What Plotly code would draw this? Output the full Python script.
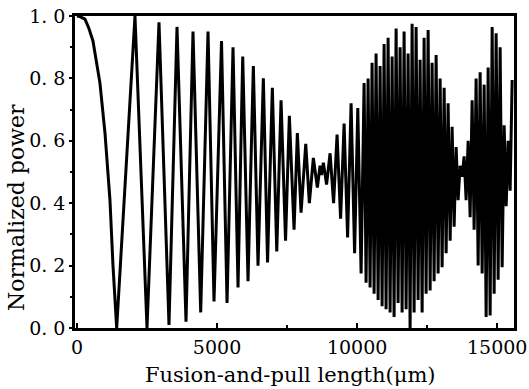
import plotly.graph_objects as go

# Fusion-and-pull length (um) and normalized power (extrema and a few shape points)
length_um = [
    0, 107, 286, 428, 571, 821, 1000, 1178, 1286, 1418, 2071,
    2500, 2928, 3285, 3571, 3892, 4142, 4417, 4678, 4892, 5160,
    5357, 5571, 5749, 5917, 6106, 6296, 6463, 6653, 6803, 6974,
    7132, 7285, 7445, 7581, 7749, 7867, 7999, 8167, 8295, 8438,
    8581, 8677, 8730,
    8795, 8910, 9035, 9160, 9285, 9410, 9535, 9660, 9785, 9910,
    10024, 10142,
    10249, 10320, 10392, 10463, 10534, 10606, 10677, 10749, 10820, 10892,
    10963, 11034, 11106, 11177, 11249, 11320, 11392, 11463, 11534, 11606,
    11677, 11749, 11820, 11891, 11963, 12034, 12106, 12177, 12248, 12320,
    12391, 12463, 12534, 12606, 12677, 12748, 12820, 12891, 12963, 13034,
    13106, 13177, 13248, 13320, 13391, 13463, 13534, 13605, 13677, 13748,
    13820, 13891, 13963, 14034, 14105, 14177, 14248, 14320, 14391, 14463,
    14534, 14605, 14677, 14748, 14820, 14891, 14962, 15034, 15105, 15177,
    15248, 15320, 15391, 15462, 15534,
]
power = [
    1.0, 0.998, 0.99, 0.96, 0.92, 0.785, 0.625, 0.41, 0.2, 0.0, 1.0,
    0.0, 0.98, 0.01, 0.965, 0.02, 0.95, 0.05, 0.95, 0.085, 0.92,
    0.08, 0.90, 0.13, 0.87, 0.15, 0.84, 0.20, 0.80, 0.21, 0.77,
    0.245, 0.73, 0.28, 0.68, 0.315, 0.625, 0.37, 0.59, 0.40, 0.545,
    0.45, 0.52, 0.49,
    0.53, 0.46, 0.56, 0.40, 0.62, 0.35, 0.655, 0.29, 0.72, 0.24,
    0.705, 0.175,
    0.785, 0.145, 0.80, 0.13, 0.85, 0.11, 0.88, 0.09, 0.84, 0.07,
    0.91, 0.06, 0.93, 0.05, 0.87, 0.035, 0.96, 0.08, 0.90, 0.05,
    0.95, 0.06, 0.88, 0.0, 0.975, 0.05, 0.965, 0.09, 0.86, 0.05,
    0.93, 0.11, 0.955, 0.12, 0.85, 0.15, 0.875, 0.175, 0.80, 0.195,
    0.77, 0.24, 0.72, 0.28, 0.645, 0.325, 0.58, 0.41, 0.52, 0.485,
    0.55, 0.41, 0.60, 0.355, 0.73, 0.315, 0.80, 0.20, 0.82, 0.175,
    0.78, 0.035, 0.835, 0.04, 0.965, 0.11, 0.945, 0.155, 0.90, 0.195,
    0.65, 0.39, 0.60, 0.44, 0.795,
]

x_ticks = [0, 5000, 10000, 15000]
x_labels = ["0", "5000", "10000", "15000"]
y_ticks = [0.0, 0.2, 0.4, 0.6, 0.8, 1.0]
y_labels = ["0. 0", "0. 2", "0. 4", "0. 6", "0. 8", "1. 0"]

font_family = "DejaVu Serif"

fig = go.Figure()
fig.add_trace(go.Scatter(
    x=length_um, y=power, mode="lines",
    line=dict(color="black", width=3),
    showlegend=False, hoverinfo="skip",
))

fig.update_layout(
    width=529, height=389,
    margin=dict(l=75, r=15, t=16, b=61),
    paper_bgcolor="white", plot_bgcolor="white",
    font=dict(family=font_family, color="black", size=19),
    annotations=[
        dict(text="Fusion-and-pull length(μm)", xref="paper", yref="paper",
             x=0.492, y=-0.151, xanchor="center", yanchor="middle",
             showarrow=False, font=dict(family=font_family, size=21)),
        dict(text="Normalized power", xref="paper", yref="paper",
             x=-0.132, y=0.385, xanchor="center", yanchor="middle", textangle=-90,
             showarrow=False, font=dict(family=font_family, size=22)),
    ],
)
fig.update_xaxes(
    range=[-70, 15600], automargin=False,
    tickvals=x_ticks, ticktext=x_labels,
    ticks="inside", ticklen=5, tickwidth=2, tickcolor="black",
    minor=dict(dtick=2500, ticks="inside", ticklen=3, tickwidth=1.5, tickcolor="black"),
    showline=True, linecolor="black", linewidth=2.5, mirror=True,
    showgrid=False, zeroline=False,
    tickfont=dict(family=font_family, size=19),
)
fig.update_yaxes(
    range=[0, 1.0], automargin=False,
    tickvals=y_ticks, ticktext=y_labels,
    ticks="outside", ticklen=3, tickwidth=2, tickcolor="black",
    minor=dict(dtick=0.1, ticks="outside", ticklen=2, tickwidth=1.5, tickcolor="black"),
    showline=True, linecolor="black", linewidth=2.5, mirror=True,
    showgrid=False, zeroline=False,
    tickfont=dict(family=font_family, size=19),
)

fig.write_html(
    "out.html",
    config={"displayModeBar": False},
    post_script="document.body.style.margin='0';document.body.style.overflow='hidden';",
)
